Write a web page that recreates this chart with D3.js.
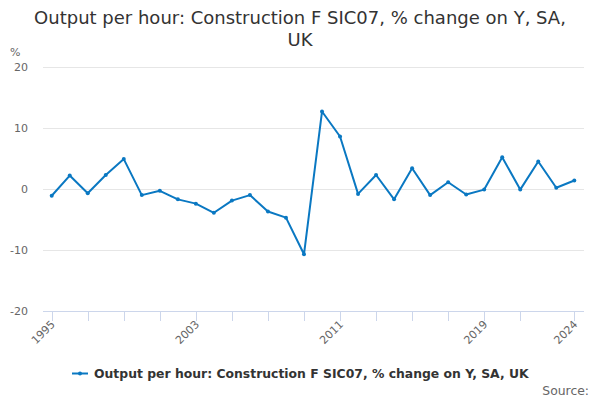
<!DOCTYPE html>
<html>
<head>
<meta charset="utf-8">
<script src="https://cdn.jsdelivr.net/npm/d3@7"></script>
<style>
  body { margin: 0; background: #fff; }
  svg { font-family: "DejaVu Sans", sans-serif; }
</style>
</head>
<body>
<svg id="chart" width="600" height="400"></svg>
<script>
// Series data.
const years  = d3.range( 1995, 2025 );
const values = [ -1.1, 2.2, -0.7, 2.3, 4.9, -1.0, -0.3, -1.7, -2.4, -3.9,
                 -1.9, -1.0, -3.7, -4.7, -10.7, 12.7, 8.6, -0.8, 2.3, -1.7,
                 3.4, -1.0, 1.1, -0.9, -0.1, 5.2, -0.1, 4.5, 0.2, 1.4 ];
const yTicks     = [ -20, -10, 0, 10, 20 ];
const xTicks     = [ 1995, 1997, 1999, 2001, 2003, 2005, 2007, 2009, 2011, 2013,
                     2015, 2017, 2019, 2021, 2024 ];
const xLabels    = [ 1995, 2003, 2011, 2019, 2024 ];
const titleLines = [ 'Output per hour: Construction F SIC07, % change on Y, SA,', 'UK' ];
const seriesName = 'Output per hour: Construction F SIC07, % change on Y, SA, UK';

const blue = '#0a78c2';
const svg  = d3.select( '#chart' );

const x = d3.scaleLinear( ).domain( [ 1995, 2024 ] ).range( [ 51.7, 574.3 ] );
const y = d3.scaleLinear( ).domain( [ -20, 20 ] ).range( [ 311, 67 ] );
const plotLeft = 43, plotRight = 584;

// Title
svg.append( 'g' ).selectAll( 'text' )
  .data( titleLines ).enter( ).append( 'text' )
  .attr( 'x', 300 ).attr( 'y', ( d, i ) => 24 + i * 22 )
  .attr( 'text-anchor', 'middle' )
  .attr( 'font-size', 18 ).attr( 'fill', '#333' )
  .text( d => d );

// Gridlines + y labels
const yAxis = svg.append( 'g' );
yAxis.selectAll( 'line' )
  .data( yTicks.filter( t => t !== -20 ) ).enter( ).append( 'line' )
  .attr( 'x1', plotLeft ).attr( 'x2', plotRight )
  .attr( 'y1', d => y( d ) + 0.5 ).attr( 'y2', d => y( d ) + 0.5 )
  .attr( 'stroke', '#e6e6e6' );
yAxis.selectAll( 'text' )
  .data( yTicks ).enter( ).append( 'text' )
  .attr( 'x', 28 ).attr( 'y', d => y( d ) + 4 )
  .attr( 'text-anchor', 'end' )
  .attr( 'font-size', 11 ).attr( 'fill', '#666' )
  .text( d => d );
svg.append( 'text' )
  .attr( 'x', 10 ).attr( 'y', 56 )
  .attr( 'font-size', 11 ).attr( 'fill', '#666' )
  .text( '%' );

// X axis
const xAxis = svg.append( 'g' );
xAxis.append( 'line' )
  .attr( 'x1', plotLeft ).attr( 'x2', plotRight )
  .attr( 'y1', y( -20 ) + 0.5 ).attr( 'y2', y( -20 ) + 0.5 )
  .attr( 'stroke', '#ccd6eb' );
xAxis.selectAll( '.tick' )
  .data( xTicks ).enter( ).append( 'line' )
  .attr( 'class', 'tick' )
  .attr( 'x1', d => Math.round( x( d ) ) + 0.5 ).attr( 'x2', d => Math.round( x( d ) ) + 0.5 )
  .attr( 'y1', y( -20 ) ).attr( 'y2', y( -20 ) + 10 )
  .attr( 'stroke', '#ccd6eb' );
xAxis.selectAll( 'text' )
  .data( xLabels ).enter( ).append( 'text' )
  .attr( 'transform', d => `translate(${x( d ) + 4},${y( -20 ) + 14}) rotate(-45)` )
  .attr( 'text-anchor', 'end' )
  .attr( 'font-size', 11 ).attr( 'fill', '#666' )
  .text( d => d );

// Series line + markers
const points = years.map( ( yr, i ) => [ yr, values[i] ] );
svg.append( 'path' )
  .datum( points )
  .attr( 'fill', 'none' )
  .attr( 'stroke', blue ).attr( 'stroke-width', 2 )
  .attr( 'stroke-linejoin', 'round' )
  .attr( 'd', d3.line( ).x( d => x( d[0] ) ).y( d => y( d[1] ) ) );
svg.append( 'g' ).selectAll( 'circle' )
  .data( points ).enter( ).append( 'circle' )
  .attr( 'cx', d => x( d[0] ) ).attr( 'cy', d => y( d[1] ) )
  .attr( 'r', 2 ).attr( 'fill', blue );

// Legend
const legend = svg.append( 'g' );
legend.append( 'line' )
  .attr( 'x1', 72 ).attr( 'x2', 88 ).attr( 'y1', 373.5 ).attr( 'y2', 373.5 )
  .attr( 'stroke', blue ).attr( 'stroke-width', 2 );
legend.append( 'circle' )
  .attr( 'cx', 80 ).attr( 'cy', 373.5 ).attr( 'r', 2 ).attr( 'fill', blue );
legend.append( 'text' )
  .attr( 'x', 94 ).attr( 'y', 378 )
  .attr( 'font-size', 12.4 ).attr( 'font-weight', 'bold' ).attr( 'fill', '#333' )
  .text( seriesName );

// Credits
svg.append( 'text' )
  .attr( 'x', 589 ).attr( 'y', 394.5 )
  .attr( 'text-anchor', 'end' )
  .attr( 'font-size', 12.4 ).attr( 'fill', '#666' )
  .text( 'Source:' );
</script>
</body>
</html>
